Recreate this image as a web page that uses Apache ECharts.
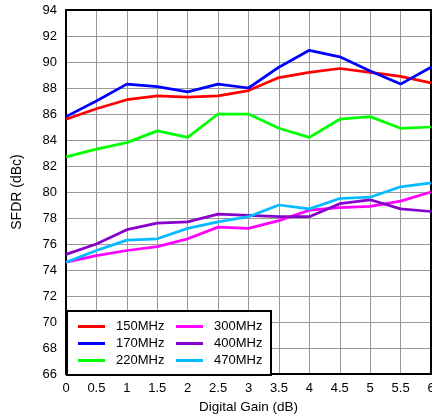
<!DOCTYPE html>
<html><head><meta charset="utf-8">
<script src="https://cdn.jsdelivr.net/npm/echarts@6/dist/echarts.min.js"></script>
<style>html,body{margin:0;padding:0;background:#fff}#c{width:432px;height:417px}</style>
</head><body><div id="c"></div>
<script>
const gains = [0,0.5,1,1.5,2,2.5,3,3.5,4,4.5,5,5.5,6];
const s150 = [85.6,86.4,87.1,87.4,87.3,87.4,87.8,88.8,89.2,89.5,89.2,88.9,88.4];
const s170 = [85.8,87.0,88.3,88.1,87.7,88.3,88.0,89.6,90.9,90.4,89.3,88.3,89.6];
const s220 = [82.7,83.3,83.8,84.7,84.2,86.0,86.0,84.9,84.2,85.6,85.8,84.9,85.0];
const s300 = [74.6,75.1,75.5,75.8,76.4,77.3,77.2,77.8,78.6,78.8,78.9,79.3,80.0];
const s400 = [75.2,76.0,77.1,77.6,77.7,78.3,78.2,78.1,78.1,79.1,79.4,78.7,78.5];
const s470 = [74.6,75.5,76.3,76.4,77.2,77.7,78.1,79.0,78.7,79.5,79.6,80.4,80.7];
const names = ['150MHz','170MHz','220MHz','300MHz','400MHz','470MHz'];
const colors = ['#ff0000','#0000ff','#00ff00','#ff00ff','#8800cc','#00bbff'];
const data = [s150,s170,s220,s300,s400,s470];
const font = 'Liberation Sans, Arial, sans-serif';
const chart = echarts.init(document.getElementById('c'));
chart.setOption({
  animation:false,
  grid:{left:66,right:1,top:10,bottom:43,outerBoundsMode:'none',containLabel:false},
  xAxis:[{type:'value',min:0,max:6,interval:0.5,
    name:'Digital Gain (dB)',nameLocation:'middle',nameGap:25,
    nameTextStyle:{color:'#000',fontSize:13.5,fontFamily:font},
    axisLine:{show:true,onZero:false,lineStyle:{color:'#000',width:2}},
    axisTick:{show:false},
    axisLabel:{color:'#000',fontSize:13,fontFamily:font,margin:8,hideOverlap:false},
    splitLine:{show:true,lineStyle:{color:'#999',width:1}}},
   {type:'value',min:0,max:6,position:'top',
    axisLine:{show:true,onZero:false,lineStyle:{color:'#000',width:2}},
    axisTick:{show:false},axisLabel:{show:false},splitLine:{show:false}}],
  yAxis:[{type:'value',min:66,max:94,interval:2,
    name:'SFDR (dBc)',nameLocation:'middle',nameGap:42,
    nameTextStyle:{color:'#000',fontSize:14,fontFamily:font},
    axisLine:{show:true,onZero:false,lineStyle:{color:'#000',width:2}},
    axisTick:{show:false},
    axisLabel:{color:'#000',fontSize:13,fontFamily:font,margin:9},
    splitLine:{show:true,lineStyle:{color:'#999',width:1}}},
   {type:'value',min:66,max:94,position:'right',
    axisLine:{show:true,onZero:false,lineStyle:{color:'#000',width:2}},
    axisTick:{show:false},axisLabel:{show:false},splitLine:{show:false}}],
  graphic:[{type:'rect',left:66,top:310,z:3,
    shape:{width:204,height:64},
    style:{fill:'#fff',stroke:'#000',lineWidth:2}}],
  legend:[{data:names.slice(0,3),orient:'vertical',left:73,top:315,z:10,
      icon:'rect',itemWidth:27,itemHeight:3,itemGap:4,
      textStyle:{color:'#000',fontSize:13,fontFamily:font,padding:[0,0,0,6]}},
    {data:names.slice(3),orient:'vertical',left:171,top:315,z:10,
      icon:'rect',itemWidth:27,itemHeight:3,itemGap:4,
      textStyle:{color:'#000',fontSize:13,fontFamily:font,padding:[0,0,0,6]}}],
  series:names.map((n,i)=>({name:n,type:'line',
    data:gains.map((g,j)=>[g,data[i][j]]),
    showSymbol:false,symbol:'none',color:colors[i],
    lineStyle:{color:colors[i],width:2.75},z:2}))
});
</script></body></html>
